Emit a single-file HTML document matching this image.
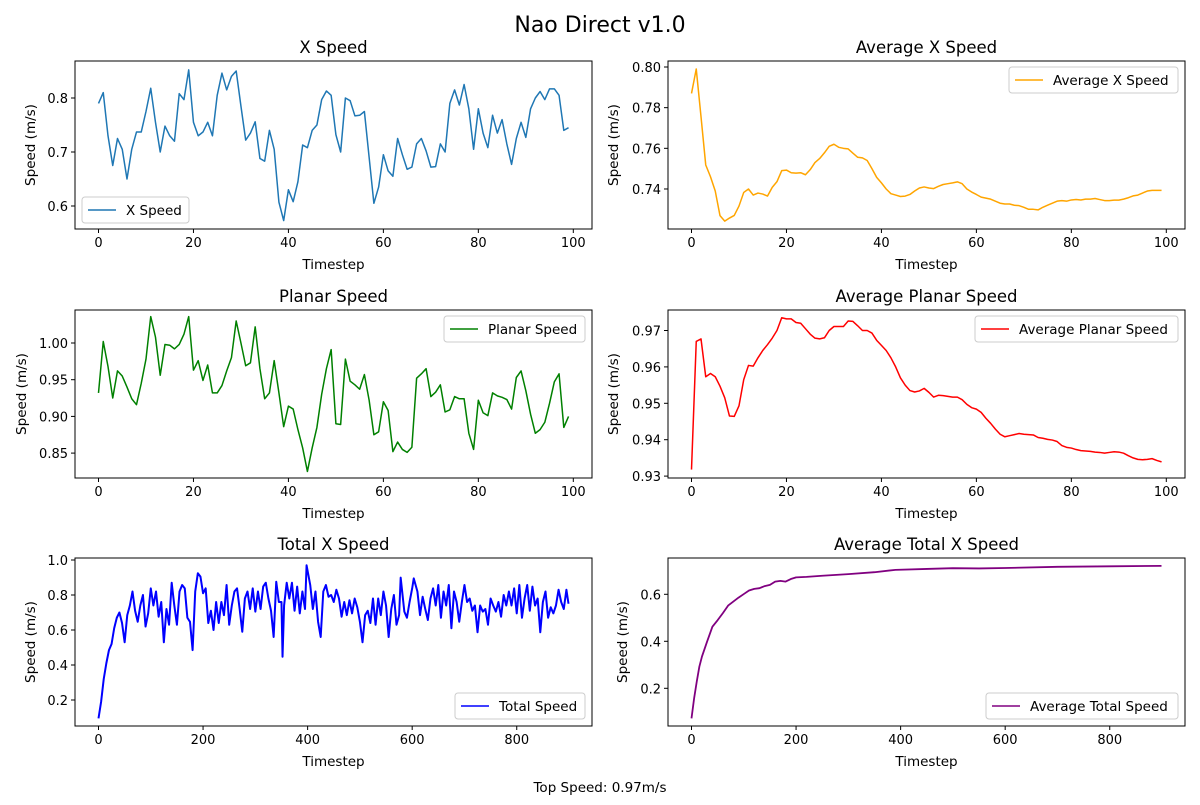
<!DOCTYPE html>
<html><head><meta charset="utf-8"><style>
body{margin:0;background:#fff;}
svg text{font-family:"DejaVu Sans","Liberation Sans",sans-serif;fill:#000;}
</style></head><body>
<svg id="fig" width="1200" height="800" viewBox="0 0 1200 800" xmlns="http://www.w3.org/2000/svg">
<rect width="1200" height="800" fill="#fff"/>
<text x="600" y="32" font-size="22" text-anchor="middle">Nao Direct v1.0</text>
<text x="600" y="792" font-size="13.5" text-anchor="middle">Top Speed: 0.97m/s</text>
</svg>
<script>
const xSpeed=[0.79,0.81,0.73,0.675,0.725,0.705,0.65,0.705,0.737,0.737,0.775,0.818,0.755,0.70,0.748,0.73,0.72,0.808,0.797,0.852,0.755,0.73,0.737,0.755,0.73,0.805,0.846,0.815,0.84,0.85,0.785,0.722,0.735,0.756,0.688,0.683,0.74,0.705,0.607,0.573,0.63,0.608,0.645,0.713,0.708,0.74,0.75,0.797,0.813,0.805,0.732,0.70,0.80,0.795,0.767,0.768,0.775,0.69,0.605,0.635,0.695,0.665,0.655,0.725,0.695,0.668,0.672,0.715,0.725,0.702,0.672,0.673,0.715,0.70,0.79,0.815,0.787,0.825,0.78,0.705,0.78,0.735,0.708,0.768,0.735,0.76,0.715,0.677,0.725,0.755,0.727,0.78,0.80,0.812,0.797,0.817,0.817,0.805,0.74,0.745];
const avgXSpeed=[0.787,0.799,0.7756,0.7518,0.746,0.739,0.7269,0.7242,0.7257,0.727,0.7316,0.7383,0.740,0.737,0.738,0.7375,0.7365,0.7408,0.7436,0.749,0.7493,0.748,0.7478,0.748,0.747,0.7495,0.753,0.755,0.7578,0.761,0.762,0.7605,0.760,0.7597,0.7576,0.7556,0.7553,0.754,0.750,0.7457,0.743,0.740,0.7377,0.737,0.7363,0.7365,0.7373,0.739,0.7405,0.741,0.7405,0.7402,0.7413,0.7422,0.7426,0.743,0.7435,0.7426,0.740,0.7385,0.7373,0.736,0.7355,0.735,0.734,0.733,0.7326,0.7326,0.732,0.7318,0.731,0.730,0.730,0.7297,0.731,0.732,0.733,0.734,0.7343,0.734,0.7346,0.7348,0.7346,0.735,0.735,0.7353,0.7348,0.7343,0.7343,0.7345,0.7345,0.735,0.7357,0.7366,0.737,0.738,0.739,0.7393,0.7393,0.7393];
const planarSpeed=[0.932,1.002,0.968,0.925,0.962,0.955,0.94,0.924,0.916,0.945,0.978,1.036,1.008,0.956,0.998,0.997,0.992,0.998,1.012,1.036,0.963,0.976,0.949,0.970,0.932,0.932,0.942,0.962,0.98,1.03,1.0,0.969,0.973,1.022,0.965,0.924,0.932,0.976,0.932,0.886,0.914,0.91,0.882,0.857,0.825,0.857,0.885,0.93,0.965,0.991,0.89,0.889,0.978,0.948,0.943,0.937,0.957,0.922,0.875,0.879,0.92,0.908,0.852,0.865,0.855,0.851,0.858,0.952,0.958,0.965,0.927,0.933,0.943,0.906,0.909,0.927,0.924,0.924,0.877,0.855,0.922,0.905,0.901,0.932,0.928,0.926,0.923,0.91,0.953,0.962,0.935,0.903,0.877,0.882,0.892,0.918,0.947,0.958,0.885,0.90];
const avgPlanarSpeed=[0.9318,0.967,0.9677,0.9573,0.9582,0.9573,0.9547,0.9515,0.9465,0.9464,0.9493,0.9565,0.9604,0.9602,0.9625,0.9645,0.9661,0.9679,0.970,0.9735,0.9732,0.9732,0.9722,0.972,0.9705,0.969,0.9679,0.9677,0.968,0.970,0.9711,0.9711,0.9711,0.9726,0.9725,0.9713,0.970,0.970,0.9693,0.9673,0.9659,0.9645,0.9625,0.960,0.957,0.955,0.9535,0.9531,0.9534,0.9541,0.953,0.9517,0.9522,0.9521,0.9519,0.9517,0.9517,0.951,0.9497,0.9488,0.9484,0.9475,0.9459,0.9445,0.9429,0.9415,0.9408,0.9411,0.9414,0.9417,0.9415,0.9414,0.9413,0.9406,0.9404,0.9401,0.9399,0.9395,0.9384,0.9379,0.9377,0.9373,0.937,0.9369,0.9368,0.9366,0.9365,0.9363,0.9365,0.9367,0.9366,0.9363,0.9356,0.935,0.9346,0.9345,0.9346,0.9348,0.9343,0.9339];
const totalSteps=[0,5,10,15,20,25,30,35,40,45,50,55,60,65,70,75,80,85,90,95,100,105,110,115,120,125,130,135,140,145,150,155,160,165,170,175,180,185,190,195,200,205,210,215,220,225,230,235,240,245,250,255,260,265,270,275,280,285,290,295,300,305,310,315,320,325,330,335,340,345,350,352,355,360,365,370,375,380,385,390,395,398,405,410,415,420,425,430,435,440,445,450,455,460,465,470,475,480,485,490,495,500,505,510,515,520,525,530,535,540,545,550,555,560,565,570,575,578,585,590,595,600,603,610,615,620,625,630,635,640,645,650,655,660,665,670,675,680,685,690,695,700,705,710,715,720,725,730,735,740,745,750,755,760,765,770,775,780,785,790,795,800,805,810,815,820,825,830,835,840,845,850,855,860,865,870,875,880,885,890,895,899];
const totalSpeed=[0.095,0.19,0.32,0.41,0.485,0.52,0.61,0.67,0.70,0.64,0.53,0.685,0.74,0.82,0.71,0.647,0.74,0.80,0.62,0.695,0.838,0.74,0.82,0.676,0.76,0.53,0.72,0.63,0.87,0.74,0.63,0.82,0.857,0.838,0.67,0.647,0.485,0.82,0.924,0.905,0.81,0.838,0.64,0.71,0.60,0.76,0.64,0.76,0.685,0.857,0.63,0.74,0.82,0.838,0.72,0.59,0.78,0.82,0.72,0.838,0.705,0.82,0.72,0.848,0.87,0.78,0.71,0.56,0.876,0.76,0.76,0.447,0.74,0.87,0.78,0.87,0.71,0.848,0.695,0.82,0.72,0.97,0.857,0.72,0.82,0.647,0.56,0.82,0.857,0.79,0.80,0.76,0.83,0.78,0.676,0.76,0.685,0.77,0.695,0.78,0.73,0.647,0.53,0.685,0.71,0.64,0.78,0.63,0.78,0.685,0.82,0.74,0.56,0.72,0.80,0.63,0.685,0.899,0.705,0.67,0.76,0.838,0.895,0.82,0.685,0.79,0.72,0.657,0.78,0.838,0.74,0.857,0.67,0.82,0.74,0.857,0.61,0.82,0.76,0.647,0.76,0.857,0.76,0.78,0.71,0.74,0.587,0.74,0.705,0.72,0.63,0.78,0.74,0.705,0.76,0.676,0.80,0.74,0.82,0.74,0.838,0.695,0.857,0.67,0.78,0.857,0.71,0.848,0.74,0.78,0.587,0.76,0.82,0.67,0.73,0.695,0.74,0.83,0.76,0.72,0.83,0.75];
const avgTotalSteps=[0,5,10,15,20,30,40,50,60,70,80,90,100,110,120,130,140,150,160,170,180,190,200,220,250,300,350,390,450,500,550,600,700,800,899];
const avgTotalSpeed=[0.072,0.157,0.228,0.292,0.335,0.40,0.462,0.49,0.52,0.552,0.569,0.586,0.601,0.616,0.623,0.626,0.635,0.64,0.654,0.657,0.654,0.665,0.672,0.674,0.679,0.686,0.694,0.704,0.708,0.711,0.710,0.712,0.717,0.719,0.721];
const xTicks100=[0,20,40,60,80,100];
const xTicks900=[0,200,400,600,800];
const yTicksA1=[0.6,0.7,0.8];
const yTicksA2=[0.74,0.76,0.78,0.80];
const yTicksA3=[0.85,0.90,0.95,1.00];
const yTicksA4=[0.93,0.94,0.95,0.96,0.97];
const yTicksA5=[0.2,0.4,0.6,0.8,1.0];
const yTicksA6=[0.2,0.4,0.6];

const NS='http://www.w3.org/2000/svg';
const svg=document.getElementById('fig');
function mk(tag,attrs,parent){const e=document.createElementNS(NS,tag);for(const k in attrs)e.setAttribute(k,attrs[k]);(parent||svg).appendChild(e);return e;}
function seq(n){const a=[];for(let i=0;i<n;i++)a.push(i);return a;}

function panel(cfg){
  const g=mk('g',{});
  
  
  const L=cfg.L,T=cfg.T,W=517,H=168;
  const xs=t=>cfg.x0+t*cfg.kx;
  const ys=v=>cfg.yRef+(cfg.vRef-v)*cfg.ky;
  let d='';
  cfg.xs.forEach((t,i)=>{d+=(i?'L':'M')+xs(t).toFixed(2)+' '+ys(cfg.ys[i]).toFixed(2);});
  const line=mk('path',{d:d,fill:'none',stroke:cfg.color,'stroke-width':cfg.sw||1.5,'stroke-linejoin':'round'},g);
  
  
  const fr=mk('rect',{x:L,y:T,width:W,height:H,fill:'none',stroke:'#000','stroke-width':1},g);
  
  
  cfg.xt.forEach(t=>{
    const x=xs(t);
    mk('line',{x1:x,y1:T+H,x2:x,y2:T+H+4,stroke:'#000'},g);
    const tx=mk('text',{x:x,y:T+H+18,'font-size':13,'text-anchor':'middle'},g);
    tx.textContent=String(t);
    
    
  });
  cfg.yt.forEach(v=>{
    const y=ys(v);
    mk('line',{x1:L-4,y1:y,x2:L,y2:y,stroke:'#000'},g);
    const tx=mk('text',{x:L-7,y:y+5,'font-size':13,'text-anchor':'end'},g);
    tx.textContent=v.toFixed(cfg.dec);
    
    
  });
  const ti=mk('text',{x:L+W/2,y:T-8,'font-size':16.5,'text-anchor':'middle'},g);
  ti.textContent=cfg.title;
  
  
  const xl=mk('text',{x:L+W/2,y:T+H+40,'font-size':13.5,'text-anchor':'middle'},g);
  xl.textContent='Timestep';
  
  
  const yx=cfg.ylx,yy=T+H/2;
  const yl=mk('text',{x:yx,y:yy,'font-size':13.5,'text-anchor':'middle',transform:'rotate(-90 '+yx+' '+yy+')'},g);
  yl.textContent='Speed (m/s)';
  
  
  const lg=mk('g',{},g);
  
  
  const [lx,ly,lw]=cfg.leg;
  mk('rect',{x:lx,y:ly,width:lw,height:26,rx:3,fill:'#fff','fill-opacity':0.8,stroke:'#ccc'},lg);
  mk('line',{x1:lx+6,y1:ly+13,x2:lx+34,y2:ly+13,stroke:cfg.color,'stroke-width':1.5},lg);
  const lt=mk('text',{x:lx+44,y:ly+18,'font-size':13.5},lg);
  lt.textContent=cfg.label;
  
  
}
const k100=4.748, k900=0.5228;
panel({name:'x-speed-panel',title:'X Speed',label:'X Speed',color:'#1f77b4',L:75,T:61,x0:98.5,kx:k100,xs:seq(100),ys:xSpeed,yRef:98,vRef:0.8,ky:540,xt:xTicks100,yt:yTicksA1,dec:1,ylx:35,leg:[82,197,107]});
panel({name:'avg-x-speed-panel',title:'Average X Speed',label:'Average X Speed',color:'#ffa500',L:668,T:61,x0:691.5,kx:k100,xs:seq(100),ys:avgXSpeed,yRef:67,vRef:0.80,ky:2033,xt:xTicks100,yt:yTicksA2,dec:2,ylx:618,leg:[1009,67,169]});
panel({name:'planar-speed-panel',title:'Planar Speed',label:'Planar Speed',color:'#008000',L:75,T:310,x0:98.5,kx:k100,xs:seq(100),ys:planarSpeed,yRef:343,vRef:1.0,ky:734,xt:xTicks100,yt:yTicksA3,dec:2,ylx:26,leg:[444,316,141]});
panel({name:'avg-planar-speed-panel',title:'Average Planar Speed',label:'Average Planar Speed',color:'#ff0000',L:668,T:310,x0:691.5,kx:k100,xs:seq(100),ys:avgPlanarSpeed,yRef:330.5,vRef:0.97,ky:3640,xt:xTicks100,yt:yTicksA4,dec:2,ylx:618,leg:[975,316,203]});
panel({name:'total-speed-panel',title:'Total X Speed',label:'Total Speed',color:'#0000ff',sw:2,L:75,T:558,x0:98.5,kx:k900,xs:totalSteps,ys:totalSpeed,yRef:700,vRef:0.2,ky:175,xt:xTicks900,yt:yTicksA5,dec:1,ylx:35,leg:[455,693,130]});
panel({name:'avg-total-speed-panel',title:'Average Total X Speed',label:'Average Total Speed',color:'#800080',sw:1.8,L:668,T:558,x0:691.5,kx:k900,xs:avgTotalSteps,ys:avgTotalSpeed,yRef:594.3,vRef:0.6,ky:235,xt:xTicks900,yt:yTicksA6,dec:1,ylx:627,leg:[986,693,192]});
</script>
</body></html>
